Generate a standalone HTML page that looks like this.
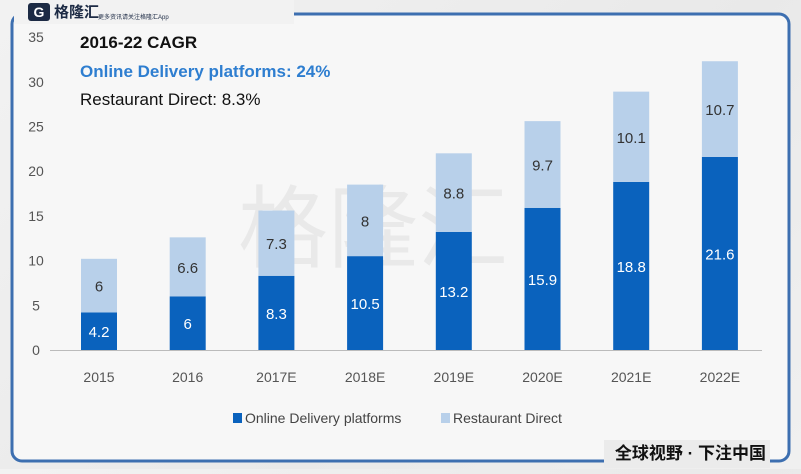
<!DOCTYPE html>
<html><head><meta charset="utf-8"><style>
body{margin:0;width:801px;height:469px;overflow:hidden;background:linear-gradient(135deg,#f2f2f2,#e9e9e9 60%,#f0f0f0);font-family:"Liberation Sans","Noto Sans CJK SC",sans-serif}
svg text{font-family:"Liberation Sans","Noto Sans CJK SC",sans-serif}
</style></head><body>
<svg width="801" height="469">
<rect x="12" y="14" width="777" height="447" rx="10" fill="#f7f7f7" stroke="#3d6fb0" stroke-width="3"/>
<rect x="14" y="0" width="280" height="24" fill="#f2f2f2"/>
<rect x="28" y="3" width="22" height="18" rx="3" fill="#1c2a44"/>
<text x="39" y="17" font-size="14" font-weight="bold" fill="#fff" text-anchor="middle">G</text>
<text x="54" y="17" font-size="15" font-weight="bold" fill="#1c2a44">格隆汇</text>
<text x="98" y="19" font-size="6" fill="#1c2a44">更多资讯请关注格隆汇App</text>
<rect x="604" y="440" width="166" height="28" fill="#ebebeb"/>
<text x="766" y="459" font-size="17" font-weight="bold" fill="#111" text-anchor="end">全球视野 · 下注中国</text>
<text x="238" y="260" font-size="90" fill="#000" opacity="0.05">格隆汇</text>
<text x="80" y="48" font-size="17" font-weight="bold" fill="#111">2016-22 CAGR</text>
<text x="80" y="77" font-size="17" font-weight="bold" fill="#2e7ed0">Online Delivery platforms: 24%</text>
<text x="80" y="105" font-size="17" fill="#111">Restaurant Direct: 8.3%</text>
<g id="yaxis"></g><g id="bars"></g><g id="xaxis"></g>
<line x1="50" y1="350.5" x2="762" y2="350.5" stroke="#bbb"/>
<rect x="233" y="413" width="9" height="10" fill="#0a62bd"/>
<text x="245" y="423" font-size="14" fill="#444">Online Delivery platforms</text>
<rect x="441" y="413" width="9" height="10" fill="#b8d0ea"/>
<text x="453" y="423" font-size="14" fill="#444">Restaurant Direct</text>
</svg>
<script>
const categories=["2015","2016","2017E","2018E","2019E","2020E","2021E","2022E"];
const online=[4.2,6,8.3,10.5,13.2,15.9,18.8,21.6];
const restaurant=[6,6.6,7.3,8,8.8,9.7,10.1,10.7];
const yTicks=[0,5,10,15,20,25,30,35];
const NS="http://www.w3.org/2000/svg";
const y=v=>350-v*8.94;
const x=i=>99+i*88.7;
function mk(t,a,p){const e=document.createElementNS(NS,t);for(const k in a)e.setAttribute(k,a[k]);p.appendChild(e);return e;}
const ya=document.getElementById('yaxis'),ba=document.getElementById('bars'),xa=document.getElementById('xaxis');
yTicks.forEach(v=>{const t=mk('text',{x:36,y:y(v)+5,'font-size':14,fill:'#555','text-anchor':'middle'},ya);t.textContent=v;

});
categories.forEach((c,i)=>{
const cx=x(i),w=36;
const r1=mk('rect',{x:cx-w/2,y:y(online[i]),width:w,height:y(0)-y(online[i]),fill:'#0a62bd'},ba);


const top=online[i]+restaurant[i];
const r2=mk('rect',{x:cx-w/2,y:y(top),width:w,height:y(online[i])-y(top),fill:'#b8d0ea'},ba);


const l1=mk('text',{x:cx,y:(y(0)+y(online[i]))/2+6,'font-size':15,fill:'#fff','text-anchor':'middle'},ba);l1.textContent=online[i];


const l2=mk('text',{x:cx,y:(y(online[i])+y(top))/2+6,'font-size':15,fill:'#333','text-anchor':'middle'},ba);l2.textContent=restaurant[i];


const xl=mk('text',{x:cx,y:382,'font-size':14,fill:'#555','text-anchor':'middle'},xa);xl.textContent=c;


});
</script>
</body></html>
